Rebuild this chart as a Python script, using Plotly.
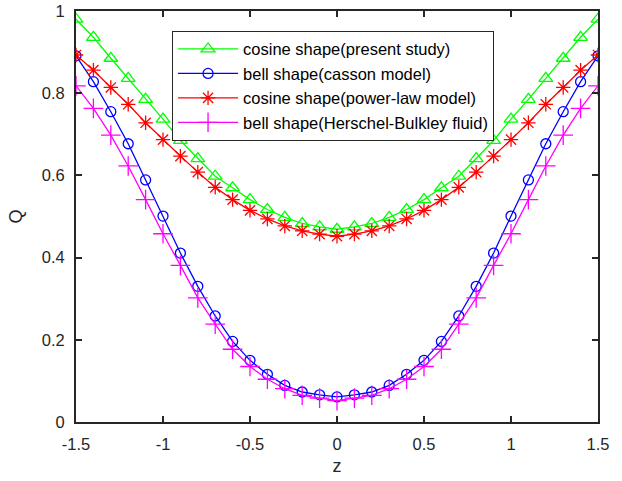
import plotly.graph_objects as go

z = [round(-1.5 + 0.1 * i, 1) for i in range(31)]

# half values from z=0 to z=1.5 (curves are symmetric)
green_half = [0.469, 0.475, 0.483, 0.498, 0.517, 0.541, 0.570, 0.598, 0.641, 0.685,
              0.737, 0.785, 0.836, 0.885, 0.936, 0.980]
blue_half = [0.061, 0.066, 0.073, 0.089, 0.116, 0.150, 0.196, 0.258, 0.330, 0.411,
             0.501, 0.589, 0.677, 0.755, 0.828, 0.891]
red_half = [0.452, 0.457, 0.465, 0.477, 0.494, 0.515, 0.541, 0.571, 0.608, 0.647,
            0.687, 0.728, 0.773, 0.814, 0.856, 0.893]
magenta_half = [0.052, 0.058, 0.065, 0.081, 0.104, 0.135, 0.177, 0.238, 0.302, 0.381,
                0.458, 0.541, 0.623, 0.698, 0.763, 0.818]

green = green_half[::-1] + green_half[1:]
blue = blue_half[::-1] + blue_half[1:]
red = red_half[::-1] + red_half[1:]
magenta = magenta_half[::-1] + magenta_half[1:]

names = ["cosine shape(present study)", "bell shape(casson model)",
         "cosine shape(power-law model)", "bell shape(Herschel-Bulkley fluid)"]
colors = ["#00ff00", "#0000ff", "#ff0000", "#ff00ff"]
symbols = ["triangle-up-open", "circle-open", "asterisk-open", "cross-thin-open"]
sizes = [12, 10, 12, 14]
series = [green, blue, red, magenta]

FONT = "Liberation Sans, Arial, sans-serif"

fig = go.Figure()
for name, col, sym, sz, ys in zip(names, colors, symbols, sizes, series):
    fig.add_trace(go.Scatter(
        x=z, y=ys, mode="lines+markers", name=name,
        line=dict(color=col, width=1.3),
        marker=dict(symbol=sym, size=sz, color=col, line=dict(color=col, width=1.3)),
    ))

axis_common = dict(
    showgrid=False, zeroline=False, showline=True, mirror="ticks", automargin=False,
    linecolor="#262626", linewidth=2, ticks="inside", ticklen=6, tickwidth=1.5,
    tickcolor="#262626", tickfont=dict(family=FONT, size=16.5, color="#262626"),
)

fig.update_xaxes(range=[-1.5, 1.5], tickvals=[-1.5, -1, -0.5, 0, 0.5, 1, 1.5],
                 ticktext=["-1.5", "-1", "-0.5", "0", "0.5", "1", "1.5"],
                 ticklabelstandoff=6,
                 title=dict(text="z", font=dict(family=FONT, size=18, color="#262626"), standoff=8),
                 **axis_common)
fig.update_yaxes(range=[0, 1], tickvals=[0, 0.2, 0.4, 0.6, 0.8, 1],
                 ticktext=["0", "0.2", "0.4", "0.6", "0.8", "1"],
                 ticklabelstandoff=6,
                 title=dict(text="Q", font=dict(family=FONT, size=18, color="#262626"), standoff=14),
                 **axis_common)

fig.update_layout(
    width=622, height=481,
    margin=dict(l=76, r=24, t=11, b=59),
    paper_bgcolor="white", plot_bgcolor="white",
    legend=dict(x=0.184, y=0.952, xanchor="left", yanchor="top",
                bgcolor="white", bordercolor="#262626", borderwidth=1,
                font=dict(family=FONT, size=16.5, color="#000000"),
                tracegroupgap=0, itemwidth=60),
    showlegend=True,
)

fig.write_html("out.html")
